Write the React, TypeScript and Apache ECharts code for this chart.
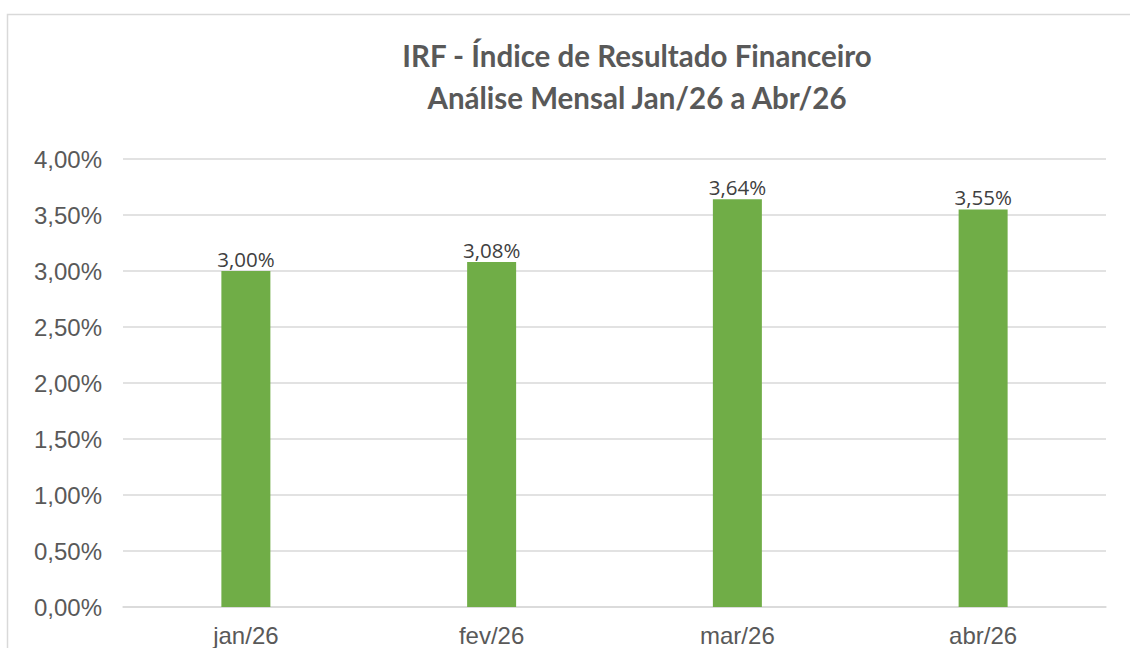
import React, { useEffect, useRef } from "react";
import * as echarts from "echarts";

const categories = ["jan/26", "fev/26", "mar/26", "abr/26"];
const values = [3.0, 3.08, 3.64, 3.55];
const titleLines = ["IRF - Índice de Resultado Financeiro", "Análise Mensal Jan/26 a Abr/26"];
const yMin = 0;
const yMax = 4;
const yInterval = 0.5;

const fmt = (v: number) => v.toFixed(2).replace(".", ",") + "%";

export default function App() {
  const ref = useRef<HTMLDivElement>(null);
  useEffect(() => {
    if (!ref.current) return;
    const chart = echarts.init(ref.current, null, { renderer: "svg" });
    chart.setOption({
      animation: false,
      backgroundColor: "#ffffff",
      title: [
        {
          text: titleLines[0],
          left: 637,
          top: 39,
          padding: 0,
          textAlign: "center",
          textStyle: { fontFamily: "Lato", fontWeight: "bold", fontSize: 29.5, lineHeight: 32, color: "#595959" },
        },
        {
          text: titleLines[1],
          left: 637,
          top: 81,
          padding: 0,
          textAlign: "center",
          textStyle: { fontFamily: "Lato", fontWeight: "bold", fontSize: 29.5, lineHeight: 32, color: "#595959" },
        },
      ],
      graphic: [
        {
          type: "rect",
          shape: { x: 7.5, y: 14.5, width: 1300, height: 800 },
          style: { fill: "none", stroke: "#d9d9d9", lineWidth: 1.5 },
          silent: true,
        },
      ],
      grid: { left: 123, right: 24, top: 159, bottom: 41, containLabel: false },
      xAxis: {
        type: "category",
        data: categories,
        axisLine: { show: true, lineStyle: { color: "#d9d9d9", width: 1.5 } },
        axisTick: { show: false },
        axisLabel: {
          color: "#595959",
          fontFamily: "Liberation Sans",
          fontSize: 24,
          margin: 16,
        },
      },
      yAxis: {
        type: "value",
        min: yMin,
        max: yMax,
        interval: yInterval,
        axisLine: { show: false },
        axisTick: { show: false },
        splitLine: { lineStyle: { color: "#d9d9d9", width: 1.5 } },
        axisLabel: {
          color: "#595959",
          fontFamily: "Liberation Sans",
          fontSize: 24,
          margin: 21,
          formatter: (v: number) => fmt(v),
        },
      },
      series: [
        {
          type: "bar",
          data: values,
          barWidth: 49,
          itemStyle: { color: "#70ad47" },
          label: {
            show: true,
            position: "top",
            distance: 2,
            color: "#404040",
            fontFamily: "Open Sans",
            fontSize: 20.5,
            formatter: (p: any) => fmt(p.value),
          },
        },
      ],
    });
    return () => chart.dispose();
  }, []);
  return (
    <div
      ref={ref}
      style={{ position: "absolute", left: 0, top: 0, width: 1130, height: 648 }}
    />
  );
}
